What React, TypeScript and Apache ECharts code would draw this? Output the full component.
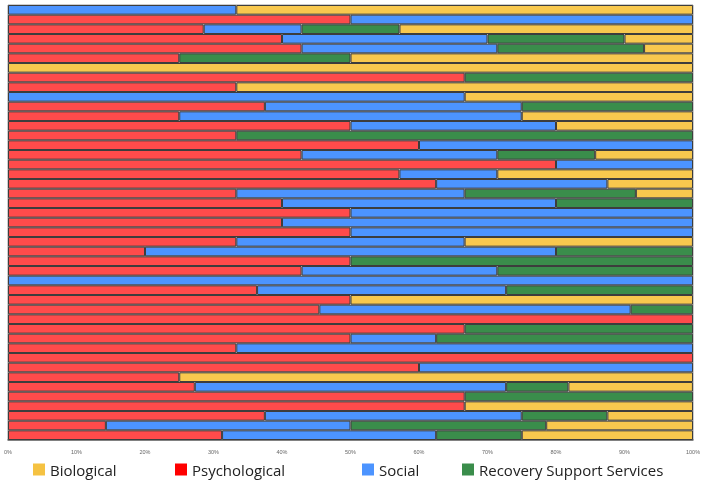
import React, { useEffect, useRef } from "react";
import * as echarts from "echarts";

// Share of each domain per respondent row (percent, rows listed top to bottom)
const rows = Array.from({ length: 45 }, (_, i) => `R${i + 1}`);

const psychological = [
  0, 50, 28.57, 40, 42.86, 25, 0, 66.67, 33.33, 0, 37.5, 25, 50, 33.33, 60,
  42.86, 80, 57.14, 62.5, 33.33, 40, 50, 40, 50, 33.33, 20, 50, 42.86, 0,
  36.36, 50, 45.45, 100, 66.67, 50, 33.33, 100, 60, 25, 27.27, 66.67, 66.67,
  37.5, 14.29, 31.25,
];
const social = [
  33.33, 50, 14.29, 30, 28.57, 0, 0, 0, 0, 66.67, 37.5, 50, 30, 0, 40, 28.57,
  20, 14.29, 25, 33.33, 40, 50, 60, 50, 33.33, 60, 0, 28.57, 100, 36.36, 0,
  45.45, 0, 0, 12.5, 66.67, 0, 40, 0, 45.45, 0, 0, 37.5, 35.71, 31.25,
];
const recovery = [
  0, 0, 14.29, 20, 21.43, 25, 0, 33.33, 0, 0, 25, 0, 0, 66.67, 0, 14.29, 0,
  0, 0, 25, 20, 0, 0, 0, 0, 20, 50, 28.57, 0, 27.27, 0, 9.09, 0, 33.33, 37.5,
  0, 0, 0, 0, 9.09, 33.33, 0, 12.5, 28.57, 12.5,
];
const biological = [
  66.67, 0, 42.86, 10, 7.14, 50, 100, 0, 66.67, 33.33, 0, 25, 20, 0, 0, 14.29,
  0, 28.57, 12.5, 8.33, 0, 0, 0, 0, 33.33, 0, 0, 0, 0, 0, 50, 0, 0, 0, 0, 0,
  0, 0, 75, 18.18, 0, 33.33, 12.5, 21.43, 25,
];

const tickLabels = ["0%", "10%", "20%", "30%", "40%", "50%", "60%", "70%", "80%", "90%", "100%"];

const COLORS = {
  Biological: "#F8C84E",
  Psychological: "#FF4B4B",
  Social: "#4C94FF",
  "Recovery Support Services": "#3A8D4B",
};
const LEGEND_COLORS = {
  Biological: "#F5C242",
  Psychological: "#FF0000",
  Social: "#4C94FF",
  "Recovery Support Services": "#3A8D4B",
};

// zero shares are left out so no empty outlined slivers appear
const clean = (arr: number[]) => arr.map((v) => (v === 0 ? "-" : v));

export default function App() {
  const ref = useRef<HTMLDivElement>(null);

  useEffect(() => {
    if (!ref.current) return;
    const chart = echarts.init(ref.current, null, { renderer: "svg" });

    const stackOrder: [string, number[]][] = [
      ["Psychological", psychological],
      ["Social", social],
      ["Recovery Support Services", recovery],
      ["Biological", biological],
    ];

    const series = stackOrder.map(([name, data]) => ({
      name,
      type: "bar",
      stack: "total",
      barWidth: "100%",
      data: clean(data),
      itemStyle: {
        color: (COLORS as any)[name],
        borderColor: "#3d3d3d",
        borderWidth: 1,
      },
      emphasis: { disabled: true },
    }));

    const legendPos: [string, number][] = [
      ["Biological", 33],
      ["Psychological", 175],
      ["Social", 362],
      ["Recovery Support Services", 462],
    ];

    const legend = legendPos.map(([name, left]) => ({
      data: [{ name, itemStyle: { color: (LEGEND_COLORS as any)[name], borderWidth: 0 } }],
      left,
      top: 462,
      padding: 0,
      icon: "rect",
      itemWidth: 12,
      itemHeight: 12,
      itemGap: 4,
      selectedMode: false,
      textStyle: {
        fontFamily: "Open Sans",
        fontSize: 15,
        color: "#222222",
        padding: [0, 0, 0, 0],
      },
    }));

    chart.setOption({
      animation: false,
      grid: {
        left: 8,
        right: 15,
        top: 5,
        bottom: 42,
        show: true,
        borderColor: "#9a9a9a",
        borderWidth: 1,
      },
      legend,
      xAxis: {
        type: "value",
        min: 0,
        max: 100,
        interval: 10,
        splitLine: { show: false },
        axisLine: { show: true, lineStyle: { color: "#6a6a6a", width: 1.5 } },
        axisTick: { show: false },
        axisLabel: {
          fontSize: 5.5,
          color: "#666666",
          margin: 9,
          formatter: (v: number) => tickLabels[Math.round(v / 10)],
        },
      },
      yAxis: {
        type: "category",
        data: rows,
        inverse: true,
        axisLine: { show: false },
        axisTick: { show: false },
        axisLabel: { show: false },
      },
      series,
    });

    return () => chart.dispose();
  }, []);

  return (
    <div
      ref={ref}
      style={{ position: "fixed", left: 0, top: 0, width: 708, height: 482 }}
    />
  );
}
